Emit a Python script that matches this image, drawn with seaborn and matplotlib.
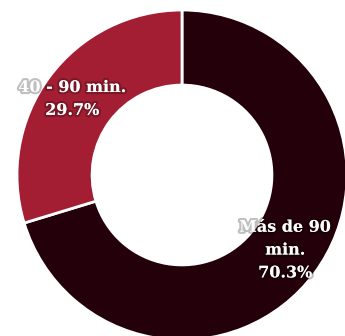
import matplotlib
matplotlib.use("Agg")
import matplotlib.pyplot as plt
import matplotlib.patheffects as pe
import seaborn as sns

categories = ["Más de 90\nmin.", "40 - 90 min."]
shares = [70.3, 29.7]
colors = ["#23000a", "#a31e33"]

sns.set_theme(style="white")
plt.rcParams["font.family"] = ["DejaVu Serif", "Liberation Serif"]

fig = plt.figure(figsize=(3.45, 3.36), dpi=100)
ax = fig.add_axes([17 / 345, -4 / 336, 330 / 345, 330 / 336])

ax.pie(shares, colors=colors, startangle=90, counterclock=False,
       radius=1.0,
       wedgeprops=dict(width=0.455, edgecolor="white", linewidth=2))
ax.set_xlim(-1, 1)
ax.set_ylim(-1, 1)
ax.set_aspect("equal")
ax.axis("off")

shadow = [pe.withStroke(linewidth=3, foreground="#00000040")]
label_pos = [(0.625, -0.455), (-0.665, 0.461)]
for cat, val, (x, y) in zip(categories, shares, label_pos):
    ax.text(x, y, f"{cat}\n{val:.1f}%", ha="center", va="center",
            color="white", fontsize=11.5, fontweight="bold",
            linespacing=1.45, path_effects=shadow)

fig.savefig("out.png", dpi=100)
